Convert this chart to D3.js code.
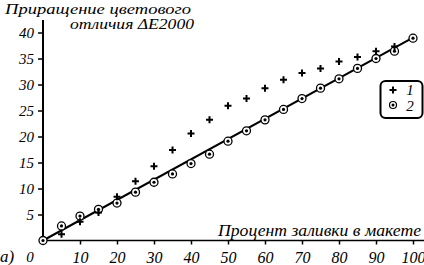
<!DOCTYPE html>
<html>
<head>
    <meta charset="utf-8">
    <script src="https://cdn.jsdelivr.net/npm/d3@7"></script>
    <style>
        body { margin: 0; background: #fff; }
    </style>
</head>
<body>
    <div id="chart"></div>
    <script>
        // data
        var xSeries2 = [0, 5, 10, 15, 20, 25, 30, 35, 40, 45, 50, 55, 60, 65, 70, 75, 80, 85, 90, 95, 100];
        var ySeries2 = [0, 2.8, 4.7, 6.0, 7.2, 9.3, 11.2, 12.8, 14.8, 16.6, 19.1, 21.1, 23.2, 25.2, 27.3, 29.3, 31.1, 33.1, 35.0, 36.4, 38.9];
        var xSeries1 = [5, 10, 15, 20, 25, 30, 35, 40, 45, 50, 55, 60, 65, 70, 75, 80, 85, 90, 95];
        var ySeries1 = [1.2, 3.6, 5.4, 8.4, 11.4, 14.3, 17.4, 20.6, 23.2, 25.9, 27.3, 29.3, 30.9, 32.2, 33.1, 34.4, 35.3, 36.4, 37.3];
        var fitX = [0, 100];
        var fitY = [0, 39];
        var xTicks = [10, 20, 30, 40, 50, 60, 70, 80, 90, 100];
        var yTicks = [5, 10, 15, 20, 25, 30, 35, 40];
        var legendLabels = ["1", "2"];

        var width = 424, height = 265;
        var serif = "'Liberation Serif', 'Times New Roman', Times, serif";

        var svg = d3.select("#chart")
            .append("svg")
            .attr("width", width)
            .attr("height", height);

        var x = d3.scaleLinear().domain([0, 100]).range([43, 413]);
        var y = d3.scaleLinear().domain([0, 40]).range([240.5, 32.5]);

        // axis lines
        svg.append("line").attr("x1", x(0)).attr("x2", 424).attr("y1", y(0)).attr("y2", y(0))
            .attr("stroke", "#000").attr("stroke-width", 1.6);
        svg.append("line").attr("x1", x(0)).attr("x2", x(0)).attr("y1", y(0) + 1).attr("y2", 20)
            .attr("stroke", "#000").attr("stroke-width", 2);

        // X axis ticks + labels
        var xAxis = svg.append("g")
            .attr("transform", "translate(0," + y(0) + ")")
            .call(d3.axisBottom(x).tickValues(xTicks).tickSize(4).tickSizeOuter(0).tickPadding(5));
        xAxis.select(".domain").remove();
        xAxis.selectAll("line").attr("stroke-width", 1.5);
        xAxis.selectAll("text").attr("dy", "0.85em");

        // Y axis ticks + labels
        var yAxis = svg.append("g")
            .attr("transform", "translate(" + x(0) + ",0)")
            .call(d3.axisLeft(y).tickValues(yTicks).tickSize(5).tickSizeOuter(0).tickPadding(4));
        yAxis.select(".domain").remove();
        yAxis.selectAll("line").attr("stroke-width", 1.5);

        // corner "0" and panel letter
        svg.append("text").attr("x", 30).attr("y", 262).attr("text-anchor", "middle")
            .attr("class", "t16").text("0");
        svg.append("text").attr("x", 0).attr("y", 262)
            .attr("class", "t17").text("а)");

        // titles
        svg.append("text").attr("x", 5).attr("y", 14)
            .attr("textLength", 186).attr("lengthAdjust", "spacingAndGlyphs")
            .attr("class", "t16").text("Приращение цветового");
        svg.append("text").attr("x", 70).attr("y", 28.5)
            .attr("textLength", 124).attr("lengthAdjust", "spacingAndGlyphs")
            .attr("class", "t16").text("отличия ΔE2000");
        svg.append("text").attr("x", 218).attr("y", 236)
            .attr("textLength", 203).attr("lengthAdjust", "spacingAndGlyphs")
            .attr("class", "t17").text("Процент заливки в макете");

        // fitted straight line
        svg.append("line")
            .attr("x1", x(fitX[0])).attr("y1", y(fitY[0]))
            .attr("x2", x(fitX[1])).attr("y2", y(fitY[1]))
            .attr("stroke", "#000").attr("stroke-width", 2);

        // series 2: ringed dots
        var pts2 = xSeries2.map(function (d, i) { return [d, ySeries2[i]]; });
        var g2 = svg.append("g").selectAll("g").data(pts2).enter().append("g")
            .attr("transform", function (d) { return "translate(" + x(d[0]) + "," + y(d[1]) + ")"; });
        g2.append("circle").attr("r", 4).attr("fill", "#fff").attr("stroke", "#000").attr("stroke-width", 1.3);
        g2.append("circle").attr("r", 1.6).attr("fill", "#000");

        // series 1: crosses
        var pts1 = xSeries1.map(function (d, i) { return [d, ySeries1[i]]; });
        svg.append("g").selectAll("path").data(pts1).enter().append("path")
            .attr("transform", function (d) { return "translate(" + x(d[0]) + "," + y(d[1]) + ")"; })
            .attr("d", "M-3.5,0H3.5M0,-3.5V3.5")
            .attr("stroke", "#000").attr("stroke-width", 2);

        // legend
        var lg = svg.append("g");
        lg.append("rect").attr("x", 380.5).attr("y", 81).attr("width", 42).attr("height", 37)
            .attr("rx", 5).attr("fill", "#fff").attr("stroke", "#000").attr("stroke-width", 2);
        lg.append("path").attr("transform", "translate(393,90)")
            .attr("d", "M-3.5,0H3.5M0,-3.5V3.5").attr("stroke", "#000").attr("stroke-width", 2);
        lg.append("circle").attr("cx", 393).attr("cy", 105).attr("r", 3.5)
            .attr("fill", "#fff").attr("stroke", "#000").attr("stroke-width", 1.2);
        lg.append("circle").attr("cx", 393).attr("cy", 105).attr("r", 1.5).attr("fill", "#000");
        lg.selectAll("text.lab").data(legendLabels).enter().append("text")
            .attr("class", "lab")
            .attr("x", 410).attr("y", function (d, i) { return 95 + i * 16; })
            .attr("text-anchor", "middle")
            .text(function (d) { return d; });

        // fonts: italic serif everywhere
        svg.selectAll("g").attr("font-family", null).attr("font-size", null);
        svg.selectAll("text")
            .style("font-family", serif)
            .style("font-style", "italic")
            .style("fill", "#000")
            .style("font-size", "15px");
        svg.selectAll("text.t16").style("font-size", "15px");
        svg.selectAll("text.t17").style("font-size", "17px");
        xAxis.selectAll("text").style("font-size", "16px");
    </script>
</body>
</html>
